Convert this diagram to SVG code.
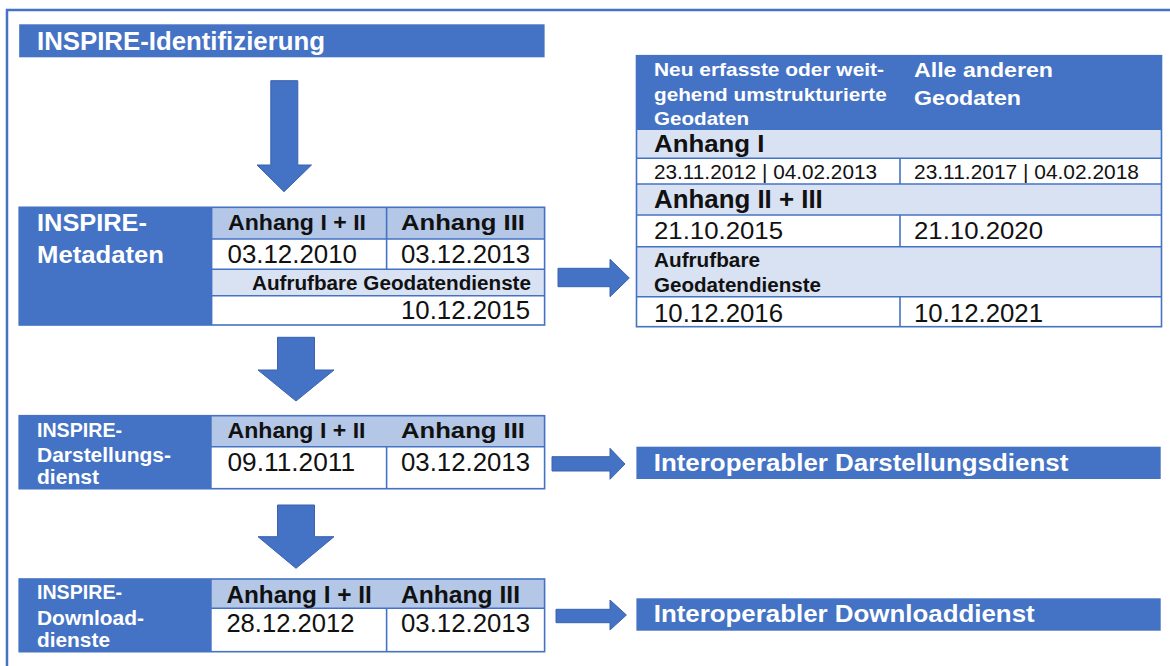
<svg xmlns="http://www.w3.org/2000/svg" width="1170" height="666" viewBox="0 0 1170 666">
<style>
.bg{fill:#ffffff}
.blue{fill:#4472C4}
.hdr{fill:#B4C7E7}
.lt{fill:#D9E2F3}
.wh{fill:#ffffff}
.bd{fill:none;stroke:#4472C4;stroke-width:1.6}
.ln{stroke:#4472C4;stroke-width:1.6}
.arrow{fill:#4472C4;stroke:#3A62AD;stroke-width:1}
text{font-family:"Liberation Sans",Arial,sans-serif}
.wb{fill:#ffffff;font-weight:bold}
.kb{fill:#111111;font-weight:bold}
.kn{fill:#111111}
</style>
<rect class="bg" x="0" y="0" width="1170" height="666"/>
<path d="M7,666 V10 H1170" fill="none" stroke="#4472C4" stroke-width="2.5"/>

<g id="identifizierung">
<rect class="blue" x="19.2" y="24.3" width="525.4" height="33"/>
<text class="wb" x="37" y="50" font-size="25" textLength="288" lengthAdjust="spacingAndGlyphs">INSPIRE-Identifizierung</text>
</g>

<g id="metadaten">
<rect class="blue" x="19.2" y="207.3" width="192.4" height="117.7"/>
<rect class="hdr" x="211.6" y="207.3" width="333" height="31.7"/>
<rect class="wh" x="211.6" y="239" width="333" height="30.3"/>
<rect class="lt" x="211.6" y="269.3" width="333" height="26.4"/>
<rect class="wh" x="211.6" y="295.7" width="333" height="29.3"/>
<line class="ln" x1="211.6" y1="239" x2="544.6" y2="239"/>
<line class="ln" x1="211.6" y1="269.3" x2="544.6" y2="269.3"/>
<line class="ln" x1="211.6" y1="295.7" x2="544.6" y2="295.7"/>
<line class="ln" x1="386.6" y1="207.3" x2="386.6" y2="269.3"/>
<line class="ln" x1="211.6" y1="207.3" x2="211.6" y2="325"/>
<rect class="bd" x="19.2" y="207.3" width="525.4" height="117.7"/>
<text class="wb" x="37" y="230.7" font-size="23" textLength="110" lengthAdjust="spacingAndGlyphs">INSPIRE-</text>
<text class="wb" x="37" y="263" font-size="23" textLength="127" lengthAdjust="spacingAndGlyphs">Metadaten</text>
<text class="kb" x="228" y="230" font-size="22" textLength="138" lengthAdjust="spacingAndGlyphs">Anhang I + II</text>
<text class="kb" x="401" y="230" font-size="22" textLength="124" lengthAdjust="spacingAndGlyphs">Anhang III</text>
<text class="kn" x="227.5" y="262.7" font-size="25" textLength="129.5" lengthAdjust="spacingAndGlyphs">03.12.2010</text>
<text class="kn" x="401" y="262.7" font-size="25" textLength="129" lengthAdjust="spacingAndGlyphs">03.12.2013</text>
<text class="kb" x="252" y="290" font-size="20" textLength="279" lengthAdjust="spacingAndGlyphs">Aufrufbare Geodatendienste</text>
<text class="kn" x="401" y="319.3" font-size="25" textLength="129" lengthAdjust="spacingAndGlyphs">10.12.2015</text>
</g>

<g id="fristen-tabelle">
<rect class="blue" x="636.5" y="55.7" width="525" height="73.6"/>
<rect class="lt" x="636.5" y="129.3" width="525" height="29"/>
<rect class="wh" x="636.5" y="158.3" width="525" height="25.7"/>
<rect class="lt" x="636.5" y="184" width="525" height="31"/>
<rect class="wh" x="636.5" y="215" width="525" height="31.7"/>
<rect class="lt" x="636.5" y="246.7" width="525" height="50"/>
<rect class="wh" x="636.5" y="296.7" width="525" height="30"/>
<line class="ln" x1="636.5" y1="129.3" x2="1161.5" y2="129.3"/>
<line class="ln" x1="636.5" y1="158.3" x2="1161.5" y2="158.3"/>
<line class="ln" x1="636.5" y1="184" x2="1161.5" y2="184"/>
<line class="ln" x1="636.5" y1="215" x2="1161.5" y2="215"/>
<line class="ln" x1="636.5" y1="246.7" x2="1161.5" y2="246.7"/>
<line class="ln" x1="636.5" y1="296.7" x2="1161.5" y2="296.7"/>
<line class="ln" x1="900" y1="158.3" x2="900" y2="184"/>
<line class="ln" x1="900" y1="215" x2="900" y2="246.7"/>
<line class="ln" x1="900" y1="296.7" x2="900" y2="326.7"/>
<rect class="bd" x="636.5" y="55.7" width="525" height="271"/>
<text class="wb" x="654" y="75.7" font-size="18.5" textLength="230" lengthAdjust="spacingAndGlyphs">Neu erfasste oder weit-</text>
<text class="wb" x="654" y="101" font-size="18.5" textLength="232.7" lengthAdjust="spacingAndGlyphs">gehend umstrukturierte</text>
<text class="wb" x="654" y="125" font-size="18.5" textLength="95" lengthAdjust="spacingAndGlyphs">Geodaten</text>
<text class="wb" x="914" y="77.3" font-size="20.5" textLength="139" lengthAdjust="spacingAndGlyphs">Alle anderen</text>
<text class="wb" x="914" y="105" font-size="20.5" textLength="107" lengthAdjust="spacingAndGlyphs">Geodaten</text>
<text class="kb" x="654" y="151.7" font-size="23" textLength="110.4" lengthAdjust="spacingAndGlyphs">Anhang I</text>
<text class="kn" x="654" y="179.3" font-size="21" textLength="223" lengthAdjust="spacingAndGlyphs">23.11.2012 | 04.02.2013</text>
<text class="kn" x="914" y="179.3" font-size="21" textLength="225" lengthAdjust="spacingAndGlyphs">23.11.2017 | 04.02.2018</text>
<text class="kb" x="654" y="208.3" font-size="25" textLength="168.8" lengthAdjust="spacingAndGlyphs">Anhang II + III</text>
<text class="kn" x="654" y="239" font-size="24" textLength="129" lengthAdjust="spacingAndGlyphs">21.10.2015</text>
<text class="kn" x="914" y="239" font-size="24" textLength="129" lengthAdjust="spacingAndGlyphs">21.10.2020</text>
<text class="kb" x="654" y="266.7" font-size="19.5" textLength="106" lengthAdjust="spacingAndGlyphs">Aufrufbare</text>
<text class="kb" x="654" y="292.3" font-size="19.5" textLength="167" lengthAdjust="spacingAndGlyphs">Geodatendienste</text>
<text class="kn" x="654" y="321.7" font-size="25" textLength="129" lengthAdjust="spacingAndGlyphs">10.12.2016</text>
<text class="kn" x="914" y="321.7" font-size="25" textLength="129" lengthAdjust="spacingAndGlyphs">10.12.2021</text>
</g>

<g id="darstellungsdienst">
<rect class="blue" x="19.2" y="415.7" width="191.7" height="73"/>
<rect class="hdr" x="210.9" y="415.7" width="333.7" height="31"/>
<rect class="wh" x="210.9" y="446.7" width="333.7" height="42"/>
<line class="ln" x1="210.9" y1="446.7" x2="544.6" y2="446.7"/>
<line class="ln" x1="386.6" y1="446.7" x2="386.6" y2="488.7"/>
<line class="ln" x1="210.9" y1="415.7" x2="210.9" y2="488.7"/>
<rect class="bd" x="19.2" y="415.7" width="525.4" height="73"/>
<text class="wb" x="37" y="436.7" font-size="20" textLength="85" lengthAdjust="spacingAndGlyphs">INSPIRE-</text>
<text class="wb" x="37" y="461.7" font-size="20" textLength="134" lengthAdjust="spacingAndGlyphs">Darstellungs-</text>
<text class="wb" x="37" y="484" font-size="20" textLength="62" lengthAdjust="spacingAndGlyphs">dienst</text>
<text class="kb" x="227.5" y="438.3" font-size="22" textLength="138" lengthAdjust="spacingAndGlyphs">Anhang I + II</text>
<text class="kb" x="401" y="438.3" font-size="22" textLength="124" lengthAdjust="spacingAndGlyphs">Anhang III</text>
<text class="kn" x="227.5" y="470.7" font-size="25" textLength="127.5" lengthAdjust="spacingAndGlyphs">09.11.2011</text>
<text class="kn" x="401" y="470.7" font-size="25" textLength="129" lengthAdjust="spacingAndGlyphs">03.12.2013</text>
</g>

<g id="downloaddienste">
<rect class="blue" x="19.2" y="579" width="191.7" height="72.7"/>
<rect class="hdr" x="210.9" y="579" width="333.7" height="29.3"/>
<rect class="wh" x="210.9" y="608.3" width="333.7" height="43.4"/>
<line class="ln" x1="210.9" y1="608.3" x2="544.6" y2="608.3"/>
<line class="ln" x1="386.6" y1="608.3" x2="386.6" y2="651.7"/>
<line class="ln" x1="210.9" y1="579" x2="210.9" y2="651.7"/>
<rect class="bd" x="19.2" y="579" width="525.4" height="72.7"/>
<text class="wb" x="37" y="599.3" font-size="20" textLength="85" lengthAdjust="spacingAndGlyphs">INSPIRE-</text>
<text class="wb" x="37" y="625" font-size="20" textLength="107" lengthAdjust="spacingAndGlyphs">Download-</text>
<text class="wb" x="37" y="646.7" font-size="20" textLength="73" lengthAdjust="spacingAndGlyphs">dienste</text>
<text class="kb" x="226.4" y="602.7" font-size="24" textLength="145.4" lengthAdjust="spacingAndGlyphs">Anhang I + II</text>
<text class="kb" x="401" y="602.7" font-size="24" textLength="119" lengthAdjust="spacingAndGlyphs">Anhang III</text>
<text class="kn" x="226.4" y="631.7" font-size="25" textLength="128" lengthAdjust="spacingAndGlyphs">28.12.2012</text>
<text class="kn" x="401" y="631.7" font-size="25" textLength="129" lengthAdjust="spacingAndGlyphs">03.12.2013</text>
</g>

<g id="interop-darstellung">
<rect class="blue" x="636.4" y="446.7" width="524.3" height="32.3"/>
<text class="wb" x="653.7" y="470.7" font-size="24" textLength="414.6" lengthAdjust="spacingAndGlyphs">Interoperabler Darstellungsdienst</text>
</g>

<g id="interop-download">
<rect class="blue" x="636.4" y="598.3" width="524.3" height="32.4"/>
<text class="wb" x="653.7" y="621.7" font-size="24" textLength="381" lengthAdjust="spacingAndGlyphs">Interoperabler Downloaddienst</text>
</g>

<g id="connectors">
<polygon class="arrow" points="270.8,80.7 297.8,80.7 297.8,165 311.5,165 284,191.7 257,165 270.8,165"/>
<polygon class="arrow" points="277.5,337.3 314.5,337.3 314.5,370 334,370 296,401 258,370 277.5,370"/>
<polygon class="arrow" points="277.5,505 314.5,505 314.5,536.7 334,536.7 296,568.3 258,536.7 277.5,536.7"/>
<polygon class="arrow" points="558,268.3 610,268.3 610,259.3 629.3,278 610,296.7 610,286.7 558,286.7"/>
<polygon class="arrow" points="552,456.7 610,456.7 610,448.3 625,464 610,479.3 610,471 552,471"/>
<polygon class="arrow" points="556,609.3 610,609.3 610,600 626.4,615 610,630 610,622.7 556,622.7"/>
</g>
</svg>
